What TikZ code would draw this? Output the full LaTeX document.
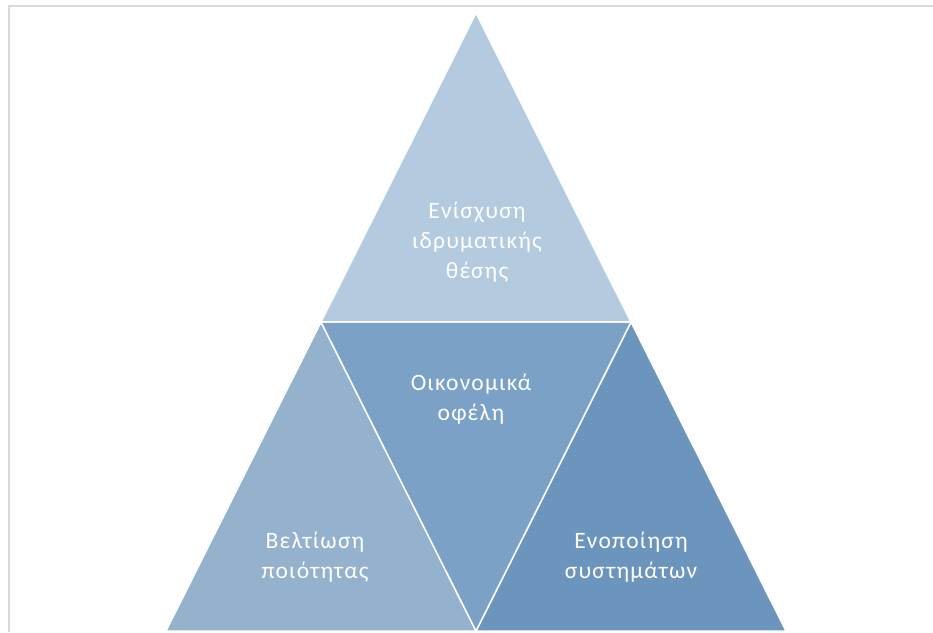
\documentclass[tikz,border=0pt]{standalone}
\usepackage{fontspec}
\setmainfont{Carlito}[LetterSpace=5]
\definecolor{topc}{RGB}{180,202,223}
\definecolor{midc}{RGB}{123,161,198}
\definecolor{leftc}{RGB}{148,177,206}
\definecolor{rightc}{RGB}{107,149,189}
\definecolor{framec}{RGB}{217,217,217}
\tikzset{
  piece/.style={draw=white, line width=1.5pt, line join=miter},
  lbl/.style={text=white, align=center, font=\fontsize{23.5}{30}\selectfont, inner sep=0pt},
}
\begin{document}
\begin{tikzpicture}[x=1pt,y=1pt]
\useasboundingbox (0,0) rectangle (933,632);
% frame
\draw[framec, line width=2pt] (8.5,0) -- (8.5,626) -- (933,626);
% vertices
\coordinate (apex) at (476,619);
\coordinate (ml) at (321,310);
\coordinate (mr) at (631,310);
\coordinate (bl) at (166,1);
\coordinate (bm) at (476,1);
\coordinate (br) at (786,1);
% pieces
\filldraw[piece, fill=leftc] (ml) -- (bm) -- (bl) -- cycle;
\filldraw[piece, fill=rightc] (mr) -- (br) -- (bm) -- cycle;
\filldraw[piece, fill=midc] (ml) -- (mr) -- (bm) -- cycle;
\filldraw[piece, fill=topc] (apex) -- (mr) -- (ml) -- cycle;
% labels
\node[lbl] (t1) at (477,390) {Ενίσχυση\\ιδρυματικής\\θέσης};
\node[lbl] (t2) at (471,233) {Οικονομικά\\οφέλη};
\node[lbl] (t3) at (315,75) {Βελτίωση\\ποιότητας};
\node[lbl] (t4) at (631,75) {Ενοποίηση\\συστημάτων};
\end{tikzpicture}
\end{document}
